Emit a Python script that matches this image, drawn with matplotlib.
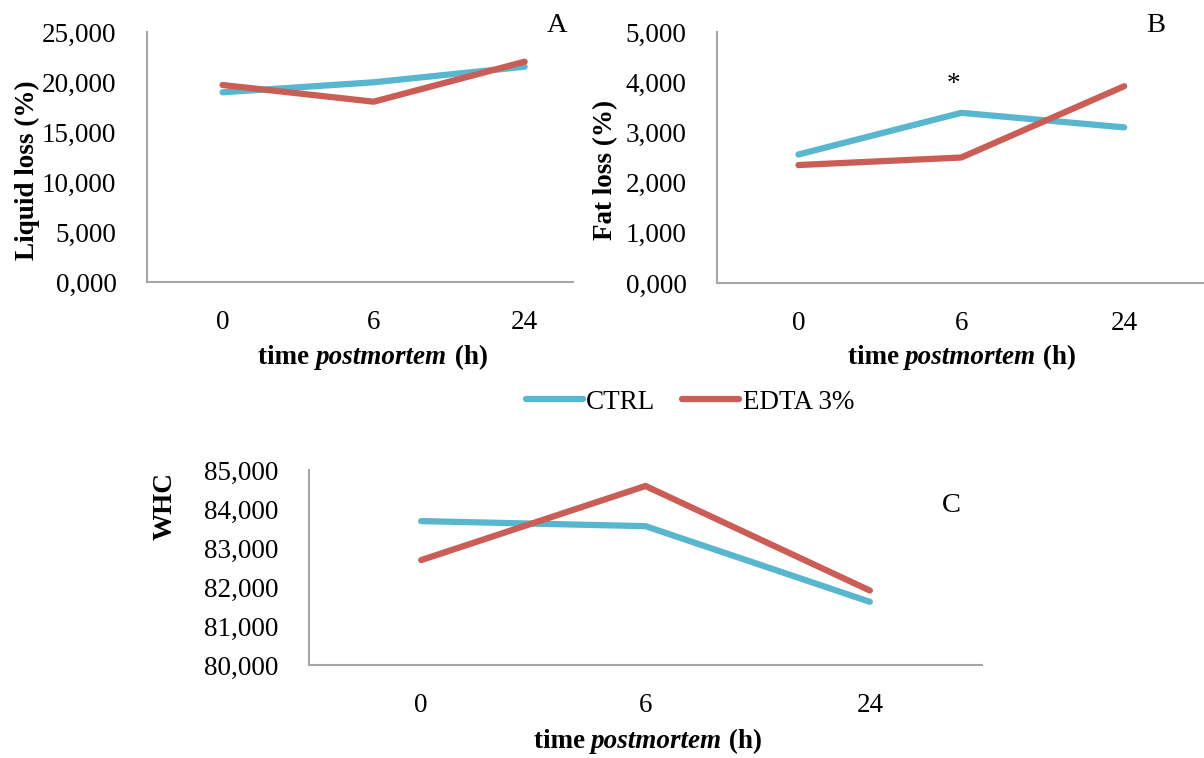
import matplotlib.pyplot as plt
from matplotlib.ticker import FuncFormatter

plt.rcParams['font.family'] = ['Liberation Serif', 'DejaVu Serif']

times = ['0', '6', '24']

liquid_ctrl = [18.97, 19.97, 21.53]
liquid_edta = [19.70, 18.03, 22.03]

fat_ctrl = [2.56, 3.39, 3.10]
fat_edta = [2.35, 2.50, 3.92]

whc_ctrl = [83.69, 83.56, 81.62]
whc_edta = [82.69, 84.59, 81.91]

ctrl_color = '#58b6cf'
edta_color = '#cb5d57'
fs = 19.5
lw = 4.5

W, H = 1204, 758
fig = plt.figure(figsize=(W / 100, H / 100), dpi=100)


def make_ax(l, r, t, b):
    return fig.add_axes([l / W, 1 - b / H, (r - l) / W, (b - t) / H])


def style(ax, ylim, yticks, xmax):
    x = range(len(times))
    ax.set_xlim(-0.5, xmax)
    ax.set_ylim(*ylim)
    ax.set_yticks(yticks)
    ax.set_xticks(list(x))
    ax.set_xticklabels(times)
    ax.yaxis.set_major_formatter(FuncFormatter(lambda v, p: f'{v:.3f}'.replace('.', ',')))
    for s in ['top', 'right']:
        ax.spines[s].set_visible(False)
    for s in ['left', 'bottom']:
        ax.spines[s].set_color('#a6a6a6')
        ax.spines[s].set_linewidth(1.5)
    ax.tick_params(axis='both', length=0, labelsize=fs)
    ax.tick_params(axis='y', pad=22)
    ax.tick_params(axis='x', pad=20)


# A
axA = make_ax(147, 573, 32, 282)
lc, = axA.plot(range(3), liquid_ctrl, color=ctrl_color, lw=lw, solid_capstyle='round', label='CTRL')
le, = axA.plot(range(3), liquid_edta, color=edta_color, lw=lw, solid_capstyle='round', label='EDTA 3%')
style(axA, (0, 25), [0, 5, 10, 15, 20, 25], 2.32)

# B
axB = make_ax(717, 1204, 32, 283)
axB.plot(range(3), fat_ctrl, color=ctrl_color, lw=lw, solid_capstyle='round')
axB.plot(range(3), fat_edta, color=edta_color, lw=lw, solid_capstyle='round')
style(axB, (0, 5), [0, 1, 2, 3, 4, 5], 2.49)
axB.text(0.95, 3.95, '*', fontsize=fs, ha='center', va='center')

# C
axC = make_ax(309, 982, 470, 665)
axC.plot(range(3), whc_ctrl, color=ctrl_color, lw=lw, solid_capstyle='round')
axC.plot(range(3), whc_edta, color=edta_color, lw=lw, solid_capstyle='round')
style(axC, (80, 85), [80, 81, 82, 83, 84, 85], 2.5)

# panel letters
for s, xc, yc in [('A', 557, 25), ('B', 1156, 25), ('C', 951, 505)]:
    fig.text(xc / W, 1 - yc / H, s, fontsize=fs + 1, ha='center', va='center')

# axis titles (bold, with italic word)
r = fig.canvas.get_renderer()
for xc, yc in [(373, 358), (962, 358), (648, 742)]:
    t1 = fig.text(0, 0, 'time ', fontsize=fs, fontweight='bold')
    t2 = fig.text(0, 0, 'postmortem', fontsize=fs, fontweight='bold', style='italic')
    t3 = fig.text(0, 0, ' (h)', fontsize=fs, fontweight='bold')
    w1 = t1.get_window_extent(r).width
    w2 = t2.get_window_extent(r).width
    w3 = t3.get_window_extent(r).width
    x0 = xc - (w1 + w2 + w3) / 2
    for t, off in [(t1, 0), (t2, w1), (t3, w1 + w2)]:
        t.set_position(((x0 + off) / W, 1 - yc / H))
        t.set_va('center')

fig.text(27 / W, 1 - 170 / H, 'Liquid loss (%)', fontsize=fs, fontweight='bold', rotation=90, ha='center', va='center')
fig.text(606 / W, 1 - 170 / H, 'Fat loss (%)', fontsize=fs, fontweight='bold', rotation=90, ha='center', va='center')
fig.text(165 / W, 1 - 506 / H, 'WHC', fontsize=fs, fontweight='bold', rotation=90, ha='center', va='center')

fig.legend(handles=[lc, le], loc='center', bbox_to_anchor=(690 / W, 1 - 402 / H), ncol=2, frameon=False,
           fontsize=fs, handlelength=2.1, handletextpad=0.12, columnspacing=1.0)

fig.savefig('out.png', dpi=100)
